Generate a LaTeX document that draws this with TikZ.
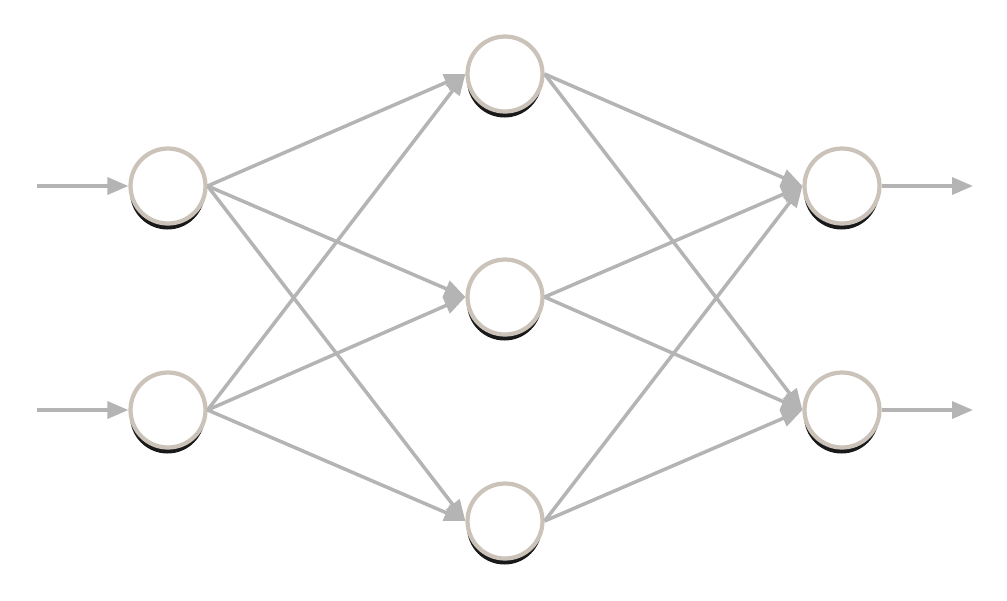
\documentclass[tikz,border=0pt]{standalone}
\usetikzlibrary{arrows.meta, shadows}
\definecolor{edgegray}{HTML}{B4B4B4}
\definecolor{ringgray}{HTML}{CBC3BA}
\tikzstyle{neuron} = [circle,
minimum size=1.5cm,
line width=2.4pt,
draw=ringgray,
fill=white,
drop shadow={shadow xshift=-0.01cm, shadow yshift=-0.12cm, fill=black, opacity=0.9}]
\tikzstyle{arrow} = [line width=2pt, color=edgegray, -{Triangle[length=0.42cm, width=0.34cm]}]

\begin{document}
\begin{tikzpicture}[x=0.02cm, y=-0.02cm]
			\useasboundingbox (0,0) rectangle (1007,600);
			\node (in1) [neuron] at (168,186) {};
			\node (in2) [neuron] at (168,410) {};
			\node (hid1) [neuron] at (505,74) {};
			\node (hid2) [neuron] at (505,297) {};
			\node (hid3) [neuron] at (505,521) {};
			\node (out1) [neuron] at (842,186) {};
			\node (out2) [neuron] at (842,410) {};
			\coordinate (x1) at (37,186);
			\coordinate (x2) at (37,410);
			\coordinate (y1) at (973,186);
			\coordinate (y2) at (973,410);

			\path[arrow] (x1) edge (in1.west)
							(x2) edge (in2.west)
							(in1.east) edge (hid1.west)
							(in1.east) edge (hid2.west)
							(in1.east) edge (hid3.west)
							(in2.east) edge (hid1.west)
							(in2.east) edge (hid2.west)
							(in2.east) edge (hid3.west)
							(hid1.east) edge (out1.west)
							(hid1.east) edge (out2.west)
							(hid2.east) edge (out1.west)
							(hid2.east) edge (out2.west)
							(hid3.east) edge (out1.west)
							(hid3.east) edge (out2.west)
							(out1.east) edge (y1)
							(out2.east) edge (y2);
		\end{tikzpicture}
\end{document}
